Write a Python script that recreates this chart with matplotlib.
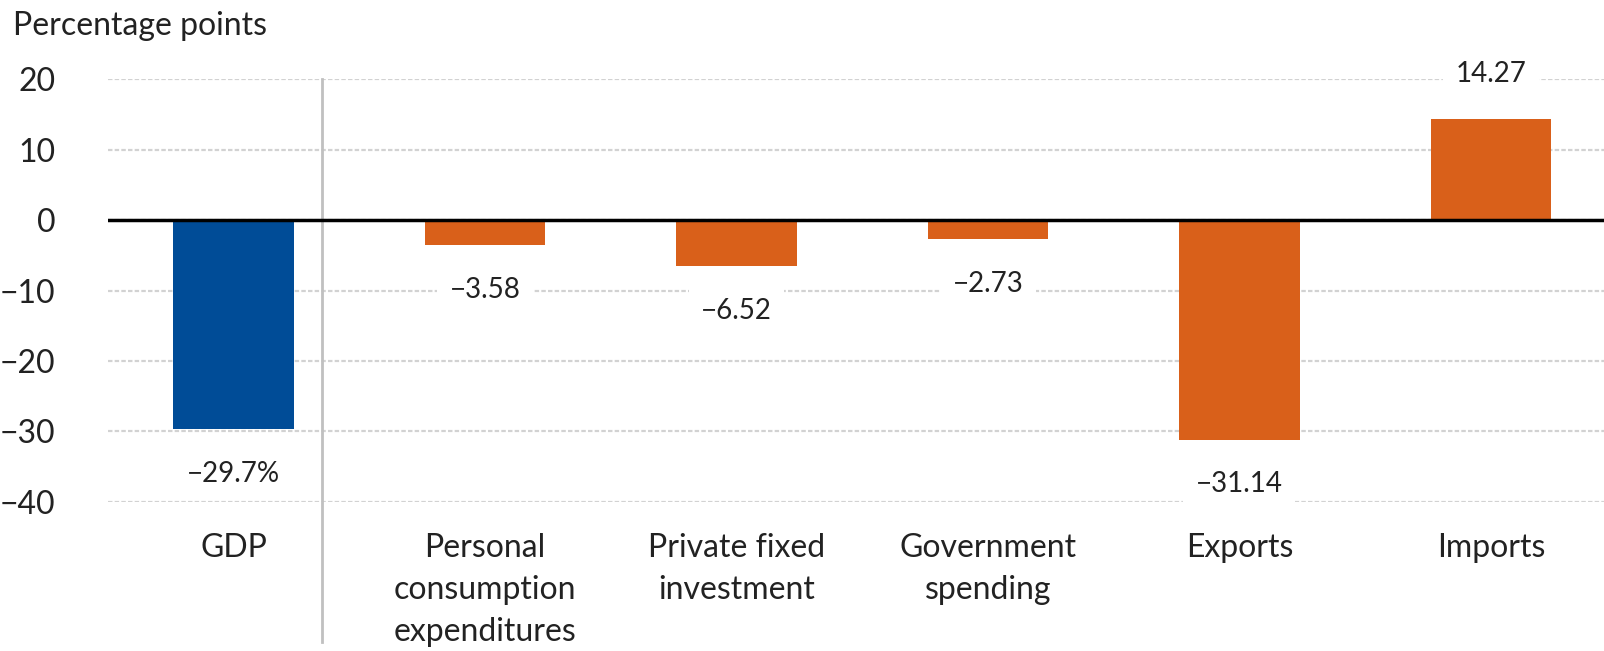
import matplotlib.pyplot as plt

# GDP contributions, Q2 2020 (percentage points)
categories = ["GDP", "Personal\nconsumption\nexpenditures", "Private fixed\ninvestment",
              "Government\nspending", "Exports", "Imports"]
values = [-29.7, -3.58, -6.52, -2.73, -31.14, 14.27]
value_labels = ["\u221229.7%", "\u22123.58", "\u22126.52", "\u22122.73", "\u221231.14", "14.27"]
yticks = [20, 10, 0, -10, -20, -30, -40]
ytick_labels = ["20", "10", "0", "\u221210", "\u221220", "\u221230", "\u221240"]

blue = "#004c97"
orange = "#d9601a"
colors = [blue] + [orange] * 5

plt.rcParams['font.family'] = ['Lato', 'DejaVu Sans']

fig = plt.figure(figsize=(16.04, 6.51), dpi=100)
ax = fig.add_axes([0.0673, 0.2289, 0.9327, 0.6497])

x = list(range(len(categories)))
ax.bar(x, values, width=0.48, color=colors, zorder=3)

ax.set_xlim(-0.5, 5.45)
ax.set_ylim(-40, 20)
ax.set_yticks(yticks)
ax.set_yticklabels(ytick_labels, fontsize=23, color="#222222")
ax.set_xticks(x)
ax.set_xticklabels(categories, fontsize=23, color="#222222", linespacing=1.5, va="top")
ax.tick_params(axis="both", length=0)
ax.tick_params(axis="y", pad=38)
ax.tick_params(axis="x", pad=22)

for s in ax.spines.values():
    s.set_visible(False)

ax.grid(axis="y", color="#d2d2d2", linestyle=(0, (2, 1)), linewidth=1.6, zorder=0)
ax.axhline(0, color="black", linewidth=2.5, zorder=4)

# separator between GDP and its components
ax.plot([0.35, 0.35], [1.0, -0.33], transform=ax.get_xaxis_transform(),
        color="#c0c0c0", linewidth=2, clip_on=False, zorder=2)

for xi, v, lab in zip(x, values, value_labels):
    off = 23 if v > 0 else -23
    ax.annotate(lab, (xi, v), xytext=(0, off), textcoords="offset points",
                ha="center", va="bottom" if v > 0 else "top", fontsize=20, color="#222222",
                bbox=dict(boxstyle="square,pad=0.45", fc="white", ec="none"), zorder=5)

fig.text(0.008, 0.96, "Percentage points", fontsize=23, color="#222222", va="center")

fig.savefig("out.png", dpi=100)
